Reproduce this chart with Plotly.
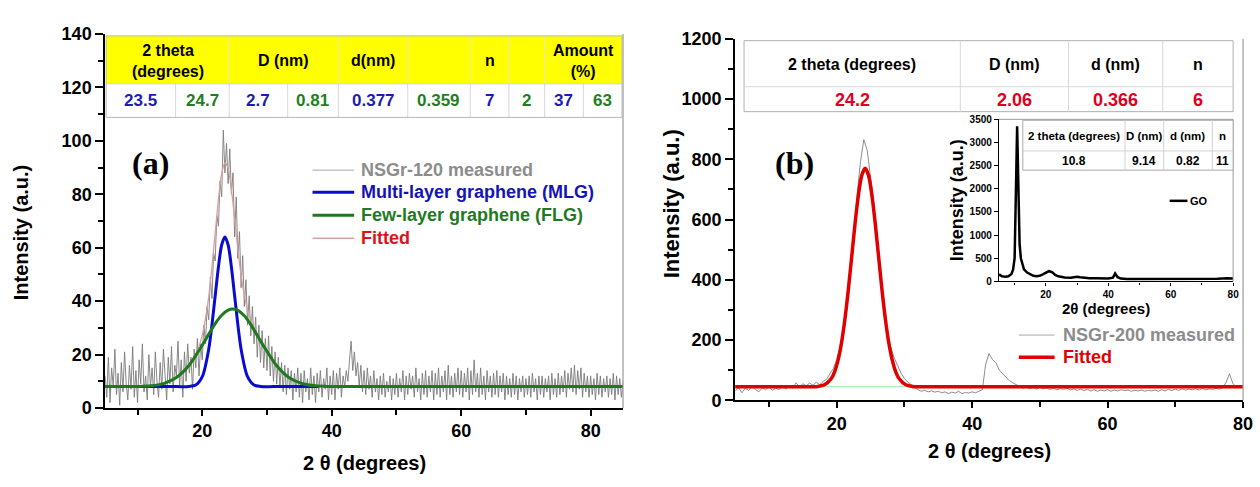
import plotly.graph_objects as go

W, H = 1260, 487
FONT = "Liberation Sans"
SERIF = "Liberation Serif"

# ---------------- Panel (a) data ----------------
a_two_theta_start = 5.0
a_two_theta_step = 0.25
a_measured = [
    12, 4, 19, 2, 15, 8, 22, 5, 13, 1,
    17, 6, 21, 9, 3, 16, 7, 23, 4, 14,
    2, 18, 9, 24, 6, 12, 3, 20, 8, 15,
    5, 21, 10, 4, 17, 7, 22, 11, 3, 19,
    9, 23, 6, 16, 12, 25, 8, 18, 4, 21,
    10, 24, 13, 19, 7, 22, 15, 26, 12, 24,
    18, 31, 24, 38, 33, 49, 41, 58, 55, 72,
    68, 85, 79, 104, 88, 99, 84, 97, 80, 88,
    64, 79, 56, 66, 45, 57, 38, 48, 31, 42,
    27, 38, 24, 34, 19, 31, 17, 29, 15, 26,
    14, 27, 12, 23, 10, 21, 9, 19, 8, 17,
    6, 16, 5, 15, 7, 14, 3, 13, 6, 15,
    4, 13, 2, 14, 6, 11, 3, 15, 5, 12,
    2, 13, 6, 14, 4, 11, 7, 15, 3, 12,
    5, 14, 3, 13, 7, 15, 4, 12, 8, 14,
    10, 18, 25, 14, 21, 12, 17, 8, 16, 6,
    14, 5, 15, 7, 12, 4, 14, 6, 11, 3,
    12, 5, 13, 4, 10, 6, 12, 3, 11, 5,
    13, 4, 11, 6, 14, 3, 12, 5, 13, 7,
    12, 4, 15, 6, 11, 3, 13, 5, 14, 4,
    12, 6, 14, 3, 13, 5, 15, 4, 12, 6,
    14, 3, 16, 5, 12, 4, 13, 6, 15, 5,
    14, 4, 13, 6, 15, 3, 14, 5, 18, 6,
    13, 4, 15, 5, 12, 3, 14, 6, 12, 4,
    13, 5, 14, 4, 12, 6, 13, 3, 12, 5,
    11, 4, 13, 5, 12, 3, 11, 6, 12, 4,
    11, 5, 12, 4, 13, 6, 11, 3, 12, 5,
    12, 4, 11, 6, 12, 3, 13, 5, 11, 4,
    13, 5, 12, 6, 14, 4, 13, 7, 15, 6,
    16, 5, 14, 7, 15, 4, 13, 6, 12, 4,
    12, 5, 11, 3, 13, 5, 12, 4, 11, 6,
    12, 4, 11, 5, 13, 3, 12, 5, 11, 4,
    10,
]
a_mlg_x = [5, 15, 18, 19, 20, 21, 22, 22.5, 23, 23.5, 24, 24.5, 25, 26, 27, 28, 29, 32, 38]
a_mlg_y = [8, 8, 8.07, 8.6, 11.7, 22.0, 42.0, 52.8, 61.0, 64.0, 61.0, 52.8, 42.0, 22.0, 11.7, 8.6, 8.07, 8, 8]
a_flg_x = [5, 10, 12, 14, 16, 18, 20, 22, 23, 24, 24.7, 25.5, 26.5, 27.5, 29.5, 31.5, 33.5, 35.5, 37.5, 39.5, 45, 85]
a_flg_y = [8, 8.06, 8.3, 9.13, 11.4, 16.1, 23.5, 31.6, 34.7, 36.6, 37, 36.5, 34.5, 31.2, 23.1, 15.8, 11.2, 9.06, 8.28, 8.06, 8, 8]
a_fit_x = [5, 12, 14, 16, 18, 19, 20, 21, 22, 22.5, 23, 23.5, 24, 24.5, 25, 26, 27, 28, 29, 30, 32, 34, 36, 38, 42, 85]
a_fit_y = [8, 8.3, 9.1, 11.4, 16.2, 20.1, 27.2, 41.7, 65.6, 78.1, 87.7, 91.8, 89.6, 81.8, 70.9, 49.6, 36.7, 29.9, 25.2, 21.1, 14.4, 10.5, 8.8, 8.2, 8, 8]

a_legend_labels = ["NSGr-120 measured", "Multi-layer graphene (MLG)", "Few-layer graphene (FLG)", "Fitted"]
a_tab_headers = ["2 theta<br>(degrees)", "D (nm)", "d(nm)", "", "n", "", "Amount<br>(%)"]
a_tab_values = ["23.5", "24.7", "2.7", "0.81", "0.377", "0.359", "7", "2", "37", "63"]

# ---------------- Panel (b) data ----------------
b_two_theta_start = 5.0
b_two_theta_step = 0.5
b_measured = [
    30, 42, 25, 40, 33, 45, 36, 28, 41, 35,
    44, 33, 40, 36, 45, 38, 48, 40, 58, 45,
    55, 48, 57, 50, 60, 52, 62, 70, 88, 105,
    135, 175, 250, 320, 440, 540, 680, 790, 865, 830,
    740, 650, 520, 400, 290, 210, 175, 140, 115, 90,
    72, 60, 52, 42, 35, 30, 33, 28, 31, 27,
    30, 25, 28, 22, 27, 24, 30, 22, 26, 24,
    28, 25, 30, 35, 120, 155, 135, 125, 100, 88,
    75, 65, 58, 52, 45, 40, 44, 38, 42, 37,
    43, 38, 41, 36, 40, 35, 39, 36, 40, 34,
    38, 33, 37, 32, 36, 31, 35, 30, 34, 31,
    35, 30, 34, 31, 35, 32, 34, 30, 33, 31,
    34, 30, 33, 31, 34, 30, 35, 31, 36, 32,
    37, 33, 38, 34, 37, 35, 38, 34, 39, 35,
    38, 36, 40, 37, 42, 60, 88, 55, 45, 42,
    44,
]
b_fit_x = [5, 15, 17.2, 18.2, 19.2, 19.7, 20.2, 20.7, 21.2, 21.7, 22.2, 22.7, 23.2, 23.7, 24.2,
           24.7, 25.2, 25.7, 26.2, 26.7, 27.2, 27.7, 28.2, 28.7, 29.2, 30.2, 31.2, 33, 80]
b_fit_y = [45, 45, 46.1, 51.4, 72.1, 95.5, 133.3, 189.6, 266.9, 363.6, 473.5, 584.3, 680.6, 746.5, 770,
           746.5, 680.6, 584.3, 473.5, 363.6, 266.9, 189.6, 133.3, 95.5, 72.1, 51.4, 46.1, 45, 45]
b_base_x = [5, 80]
b_base_y = [45, 45]
b_legend_labels = ["NSGr-200 measured", "Fitted"]
b_tab_headers = ["2 theta (degrees)", "D (nm)", "d (nm)", "n"]
b_tab_values = ["24.2", "2.06", "0.366", "6"]

# ---------------- Inset (GO) data ----------------
go_x = [5, 6, 7, 8, 9, 9.5, 10, 10.3, 10.6, 10.8, 11.0, 11.3, 11.6, 12, 12.5, 13, 14, 15, 16, 17,
        18, 19, 20, 21, 22, 23, 24, 25, 26, 28, 30, 31, 32, 34, 36, 38, 40, 41.5, 42.2, 43,
        44, 46, 50, 55, 60, 65, 70, 75, 78, 80]
go_y = [150, 110, 100, 110, 160, 250, 500, 1300, 2600, 3350, 2700, 1500, 800, 500, 350, 260, 190, 150, 120, 110,
        120, 150, 190, 220, 200, 140, 110, 90, 85, 80, 100, 90, 80, 70, 65, 60, 60, 80, 170, 90,
        60, 50, 50, 45, 45, 45, 50, 55, 70, 60]
go_tab_headers = ["2 theta (degrees)", "D (nm)", "d (nm)", "n"]
go_tab_values = ["10.8", "9.14", "0.82", "11"]


def px(x):
    return x / W


def py(y):
    return 1 - y / H


fig = go.Figure()

a_x = [a_two_theta_start + a_two_theta_step * i for i in range(len(a_measured))]
b_x = [b_two_theta_start + b_two_theta_step * i for i in range(len(b_measured))]

# panel a traces
fig.add_trace(go.Scatter(x=a_x, y=a_measured, mode="lines", line=dict(color="#7a7a7a", width=0.9),
                         xaxis="x", yaxis="y", showlegend=False))
fig.add_trace(go.Scatter(x=a_fit_x, y=a_fit_y, mode="lines",
                         line=dict(color="#d9a0a0", width=1.3, shape="spline", smoothing=0.8),
                         xaxis="x", yaxis="y", showlegend=False))
fig.add_trace(go.Scatter(x=a_mlg_x, y=a_mlg_y, mode="lines",
                         line=dict(color="#0b0bd0", width=3, shape="spline", smoothing=0.8),
                         xaxis="x", yaxis="y", showlegend=False))
fig.add_trace(go.Scatter(x=a_flg_x, y=a_flg_y, mode="lines",
                         line=dict(color="#1f7a1f", width=3, shape="spline", smoothing=0.8),
                         xaxis="x", yaxis="y", showlegend=False))

# panel b traces
fig.add_trace(go.Scatter(x=b_x, y=b_measured, mode="lines", line=dict(color="#808080", width=0.9),
                         xaxis="x2", yaxis="y2", showlegend=False))
fig.add_trace(go.Scatter(x=b_base_x, y=b_base_y, mode="lines", line=dict(color="#98e898", width=1),
                         xaxis="x2", yaxis="y2", showlegend=False))
fig.add_trace(go.Scatter(x=b_fit_x, y=b_fit_y, mode="lines",
                         line=dict(color="#e00000", width=3.5, shape="spline", smoothing=0.8),
                         xaxis="x2", yaxis="y2", showlegend=False))

# inset
fig.add_trace(go.Scatter(x=go_x, y=go_y, mode="lines", line=dict(color="black", width=2.5),
                         xaxis="x3", yaxis="y3", showlegend=False))


def axis(domain, rng, dtick, mdtick, size=18, ticklen=8, mlen=5, lw=1.8, anchor=None):
    d = dict(domain=domain, range=rng, dtick=dtick, tick0=0, ticks="outside", ticklen=ticklen,
             tickwidth=lw, tickcolor="black", showline=True, linecolor="black", linewidth=lw,
             showgrid=False, zeroline=False,
             tickfont=dict(family=FONT, size=size, color="black", weight="bold"),
             minor=dict(dtick=mdtick, tick0=0, ticks="outside", ticklen=mlen, tickwidth=lw,
                        tickcolor="black", showgrid=False))
    if anchor:
        d["anchor"] = anchor
    return d


fig.update_layout(
    width=W, height=H, margin=dict(l=0, r=0, t=0, b=0),
    paper_bgcolor="white", plot_bgcolor="white", showlegend=False,
    xaxis=axis([px(106), px(628)], [5, 85], 20, 10, anchor="y", ticklen=6),
    yaxis=axis([py(415), py(25)], [0, 140], 20, 10, anchor="x"),
    xaxis2=axis([px(741), px(1253)], [5, 80], 20, 10, anchor="y2", ticklen=6),
    yaxis2=axis([py(407), py(30)], [0, 1200], 200, 100, anchor="x2"),
    xaxis3=axis([px(1007), px(1243)], [5, 80], 20, 10, size=10, ticklen=3, mlen=2, lw=1.3, anchor="y3"),
    yaxis3=axis([py(283), py(114)], [0, 3500], 500, 250, size=10, ticklen=4, mlen=0, lw=1.3, anchor="x3"),
)
fig.update_xaxes(ticklabelstandoff=0, selector=dict(anchor="y3"))

shapes = []
anns = []


def pline(x0, y0, x1, y1, color, width):
    shapes.append(dict(type="line", xref="paper", yref="paper", x0=px(x0), y0=py(y0), x1=px(x1), y1=py(y1),
                       line=dict(color=color, width=width), layer="above"))


def prect(x0, y0, x1, y1, fill, color, width=1):
    shapes.append(dict(type="rect", xref="paper", yref="paper", x0=px(x0), y0=py(y1), x1=px(x1), y1=py(y0),
                       fillcolor=fill, line=dict(color=color, width=width), layer="above"))


def text(x, y, t, size, color="black", family=FONT, xanchor="center", angle=0):
    anns.append(dict(x=px(x), y=py(y), xref="paper", yref="paper", text=t, showarrow=False,
                     xanchor=xanchor, yanchor="middle", textangle=angle,
                     font=dict(family=family, size=size, color=color, weight="bold")))


# frame lines (right borders)
for xr, yr in (("x", "y"), ("x2", "y2")):
    shapes.append(dict(type="line", xref=f"{xr} domain", yref=f"{yr} domain", x0=1, x1=1, y0=0, y1=1,
                       line=dict(color="#9a9a9a", width=1.2)))
shapes.append(dict(type="line", xref="x3 domain", yref="y3 domain", x0=1, x1=1, y0=0, y1=1,
                   line=dict(color="#9a9a9a", width=1)))
shapes.append(dict(type="line", xref="x3 domain", yref="y3 domain", x0=0, x1=1, y0=1, y1=1,
                   line=dict(color="#9a9a9a", width=1)))

# ---- table (a) ----
a_edges = [107, 177, 231, 290, 341, 411, 474, 513, 549, 588, 627]
a_spans = [(0, 2), (2, 4), (4, 5), (5, 6), (6, 7), (7, 8), (8, 10)]
a_top, a_mid, a_bot = 27, 77, 112
prect(a_edges[0], a_top, a_edges[-1], a_mid, "#ffff00", "rgba(0,0,0,0)", 0)
prect(a_edges[0], a_mid, a_edges[-1], a_bot, "white", "rgba(0,0,0,0)", 0)
for (i0, i1), h in zip(a_spans, a_tab_headers):
    if i1 < len(a_edges) - 1:
        pline(a_edges[i1], a_top, a_edges[i1], a_mid, "#e8e8c0", 1)
    if h:
        text((a_edges[i0] + a_edges[i1]) / 2, (a_top + a_mid) / 2 + 1, h, 16)
a_val_colors = ["#1c1cb4", "#1f7f1f"]
for i, v in enumerate(a_tab_values):
    if i > 0:
        pline(a_edges[i], a_mid, a_edges[i], a_bot, "#d8d8d8", 1)
    text((a_edges[i] + a_edges[i + 1]) / 2, (a_mid + a_bot) / 2, v, 17, a_val_colors[i % 2])
pline(a_edges[0], a_mid, a_edges[-1], a_mid, "#d0d0d0", 1)
prect(a_edges[0], a_top, a_edges[-1], a_bot, "rgba(0,0,0,0)", "#b8b8b8", 1)

# ---- table (b) ----
b_edges = [750, 968, 1077, 1172, 1243]
b_top, b_mid, b_bot = 32, 80, 106
prect(b_edges[0], b_top, b_edges[-1], b_bot, "white", "#b0b0b0", 1)
pline(b_edges[0], b_mid, b_edges[-1], b_mid, "#d8d8d8", 1)
for i in range(len(b_tab_headers)):
    if i > 0:
        pline(b_edges[i], b_top, b_edges[i], b_bot, "#d8d8d8", 1)
    cx = (b_edges[i] + b_edges[i + 1]) / 2
    text(cx, (b_top + b_mid) / 2 + 1, b_tab_headers[i], 16)
    text(cx, (b_mid + b_bot) / 2 + 1, b_tab_values[i], 18, "#e0001b")

# ---- inset table ----
g_edges = [1031, 1134, 1173, 1222, 1243]
g_top, g_mid, g_bot = 115, 147, 167
prect(g_edges[0], g_top, g_edges[-1], g_bot, "white", "#a8a8a8", 1)
pline(g_edges[0], g_mid, g_edges[-1], g_mid, "#d0d0d0", 1)
for i in range(len(go_tab_headers)):
    if i > 0:
        pline(g_edges[i], g_top, g_edges[i], g_bot, "#d0d0d0", 1)
    cx = (g_edges[i] + g_edges[i + 1]) / 2
    text(cx, (g_top + g_mid) / 2, go_tab_headers[i], 11.5)
    text(cx, (g_mid + g_bot) / 2, go_tab_values[i], 12)

# ---- legends ----
a_leg_y = [167, 190, 214, 238]
a_leg_line_colors = ["#a8a8a8", "#0b0bd0", "#1f7a1f", "#d9a0a0"]
a_leg_line_widths = [1, 3, 3, 1.3]
a_leg_text_colors = ["#8c8c8c", "#1414b4", "#1f7a1f", "#e0101a"]
for yy, lab, lc, lw, tc in zip(a_leg_y, a_legend_labels, a_leg_line_colors, a_leg_line_widths, a_leg_text_colors):
    pline(315, yy, 357, yy, lc, lw)
    text(362, yy, lab, 18, tc, xanchor="left")

b_leg_y = [339, 362]
b_leg_line_colors = ["#a8a8a8", "#e00000"]
b_leg_line_widths = [1, 3.5]
b_leg_text_colors = ["#8c8c8c", "#e00000"]
for yy, lab, lc, lw, tc in zip(b_leg_y, b_legend_labels, b_leg_line_colors, b_leg_line_widths, b_leg_text_colors):
    pline(1027, yy, 1063, yy, lc, lw)
    text(1069, yy, lab, 18, tc, xanchor="left")

pline(1179, 199, 1197, 199, "black", 2.5)
text(1198, 199, "GO", 11, xanchor="left")

# ---- titles & labels ----
text(22, 232, "Intensity (a.u.)", 20, angle=-90)
text(367, 472, "2 \u03b8 (degrees)", 20)
text(677, 202, "Intensity (a.u.)", 22, angle=-90)
text(997, 460, "2 \u03b8 (degrees)", 20)
text(965, 198, "Intensity (a.u.)", 18, angle=-90)
text(1115, 311, "2\u03b8 (degrees)", 15)
text(152, 160, "(a)", 32, family=SERIF)
text(801, 160, "(b)", 32, family=SERIF)

fig.update_layout(shapes=shapes, annotations=anns)
fig.write_html("out.html")
